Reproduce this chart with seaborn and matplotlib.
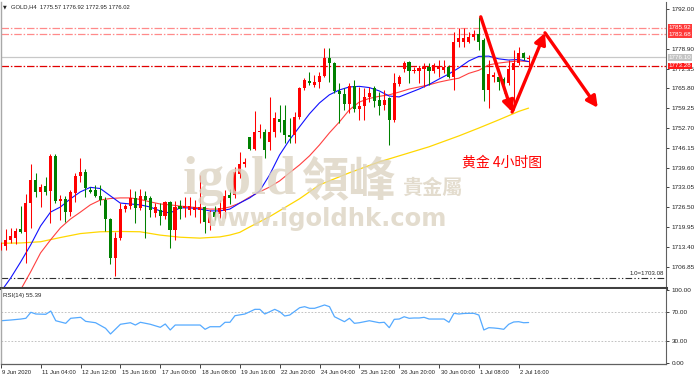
import matplotlib
matplotlib.use("Agg")
import matplotlib.pyplot as plt
import matplotlib.transforms as mtransforms
import seaborn as sns
import numpy as np

sns.set_theme(style="white")
plt.rcParams['font.family'] = ['Liberation Sans', 'DejaVu Sans']

# ---------------- data (GOLD H4) ----------------
opens = [1712.7, 1713.7, 1715.7, 1716.3, 1719.3, 1718.4, 1727.8, 1735.5, 1731.7, 1733.5,
         1732.0, 1743.5, 1728.6, 1729.1, 1725.0, 1731.1, 1736.9, 1738.3, 1732.2, 1732.2,
         1730.3, 1728.9, 1722.6, 1709.6, 1716.3, 1725.8, 1726.9, 1729.5, 1726.2, 1730.3,
         1729.5, 1724.7, 1725.6, 1723.6, 1728.4, 1719.0, 1726.9, 1726.2, 1725.6, 1725.6,
         1725.6, 1726.5, 1721.3, 1725.0, 1724.3, 1725.3, 1730.4, 1730.6, 1737.5, 1740.8,
         1749.7, 1745.7, 1751.5, 1751.5, 1748.1, 1751.5, 1755.8, 1755.4, 1750.4, 1750.4,
         1756.2, 1765.9, 1768.4, 1767.1, 1768.0, 1769.9, 1775.8, 1774.1, 1765.1, 1764.0,
         1760.7, 1766.6, 1758.9, 1760.0, 1763.1, 1765.9, 1762.0, 1760.3, 1762.6, 1755.4,
         1767.3, 1772.1, 1774.5, 1771.6, 1771.6, 1772.1, 1773.0, 1771.6, 1772.1, 1771.9,
         1773.0, 1769.7, 1781.1, 1781.3, 1781.3, 1782.7, 1783.8, 1781.8, 1765.3, 1769.6,
         1769.7, 1768.9, 1767.7, 1771.9, 1774.1, 1777.4, 1775.57]
highs = [1715.0, 1719.2, 1719.7, 1719.7, 1726.9, 1730.9, 1740.7, 1737.7, 1734.2, 1736.6,
         1744.1, 1744.1, 1730.6, 1730.3, 1732.2, 1737.7, 1742.7, 1739.1, 1733.1, 1733.9,
         1733.9, 1729.8, 1722.8, 1718.4, 1727.9, 1727.6, 1732.5, 1731.9, 1732.5, 1731.9,
         1730.3, 1728.0, 1728.0, 1728.7, 1728.7, 1728.7, 1728.9, 1730.0, 1730.0, 1728.9,
         1737.2, 1726.9, 1725.6, 1726.9, 1728.9, 1732.2, 1732.5, 1739.9, 1744.8, 1742.7,
         1749.9, 1758.5, 1754.1, 1752.4, 1762.9, 1758.1, 1760.3, 1760.3, 1756.0, 1758.1,
         1766.4, 1769.2, 1771.3, 1770.3, 1771.3, 1779.1, 1779.1, 1774.7, 1767.5, 1765.9,
         1767.5, 1768.6, 1766.4, 1765.9, 1766.4, 1766.6, 1764.7, 1765.3, 1763.1, 1770.8,
         1770.3, 1775.0, 1775.0, 1773.0, 1773.2, 1774.1, 1774.1, 1774.2, 1775.2, 1775.2,
         1773.6, 1784.6, 1785.7, 1785.7, 1784.6, 1785.2, 1789.6, 1782.4, 1775.2, 1771.3,
         1771.4, 1769.7, 1775.2, 1778.5, 1779.6, 1778.0, 1776.92]
lows = [1712.4, 1712.4, 1714.7, 1714.4, 1718.0, 1708.0, 1719.6, 1730.0, 1726.7, 1730.6,
        1721.4, 1727.8, 1722.3, 1721.7, 1723.6, 1728.4, 1735.0, 1729.8, 1731.1, 1730.0,
        1727.3, 1718.8, 1707.7, 1703.9, 1715.7, 1725.0, 1725.8, 1721.4, 1725.6, 1716.4,
        1723.2, 1723.2, 1720.6, 1722.5, 1712.9, 1715.7, 1722.5, 1723.4, 1724.0, 1723.2,
        1721.2, 1717.9, 1719.0, 1722.3, 1723.0, 1723.0, 1727.6, 1729.6, 1736.2, 1739.9,
        1745.5, 1745.5, 1749.4, 1742.7, 1745.5, 1749.9, 1751.5, 1747.7, 1747.7, 1747.7,
        1755.7, 1765.3, 1767.0, 1766.3, 1766.0, 1769.7, 1768.0, 1764.2, 1754.3, 1758.7,
        1757.6, 1758.1, 1755.4, 1755.4, 1761.4, 1759.8, 1757.0, 1758.7, 1747.1, 1754.8,
        1766.6, 1771.4, 1767.7, 1770.8, 1767.5, 1766.4, 1767.0, 1770.9, 1769.7, 1770.8,
        1769.2, 1765.3, 1779.6, 1779.6, 1780.8, 1781.8, 1778.5, 1761.5, 1759.3, 1767.9,
        1765.3, 1764.2, 1767.0, 1758.7, 1773.6, 1775.2, 1772.95]
closes = [1714.3, 1715.7, 1717.0, 1718.8, 1718.2, 1727.8, 1735.5, 1731.7, 1733.3, 1731.7,
          1743.5, 1728.7, 1729.4, 1725.0, 1731.7, 1736.9, 1738.3, 1732.8, 1731.7, 1730.3,
          1728.9, 1722.6, 1709.6, 1716.3, 1725.9, 1726.9, 1729.5, 1726.2, 1730.3, 1728.9,
          1725.6, 1726.5, 1723.6, 1728.4, 1719.0, 1726.5, 1725.8, 1726.9, 1726.9, 1726.5,
          1726.5, 1721.7, 1725.0, 1723.4, 1726.3, 1730.3, 1729.6, 1738.2, 1740.8, 1741.6,
          1745.7, 1751.5, 1751.8, 1745.5, 1751.5, 1755.9, 1754.8, 1750.4, 1749.7, 1756.3,
          1765.9, 1768.6, 1767.5, 1768.0, 1769.9, 1775.8, 1774.1, 1765.1, 1764.0, 1760.7,
          1766.6, 1758.9, 1760.0, 1763.1, 1764.4, 1761.8, 1760.0, 1762.0, 1755.4, 1767.5,
          1769.7, 1774.1, 1771.7, 1771.9, 1772.7, 1773.0, 1771.7, 1773.4, 1773.0, 1773.0,
          1769.7, 1781.3, 1782.4, 1782.4, 1782.9, 1783.8, 1781.3, 1765.3, 1770.6, 1770.1,
          1768.0, 1767.5, 1772.1, 1774.1, 1777.4, 1775.8, 1776.02]

# moving averages (read at sampled bars)
ma_fast_bar = [0, 2, 4, 6, 8, 10, 12, 14, 16, 18, 20, 22, 24, 26, 28, 30, 32, 34, 36, 38,
               40, 42, 44, 46, 48, 50, 52, 54, 56, 58, 60, 62, 64, 66, 68, 70, 72, 74, 76, 78,
               80, 82, 84, 86, 88, 90, 92, 94, 96, 98, 100, 102, 104, 106]
ma_fast = [1698.5, 1703.1, 1708.4, 1714.0, 1720.3, 1724.9, 1726.6, 1729.3, 1731.6, 1733.1,
           1732.7, 1730.3, 1727.9, 1727.6, 1727.3, 1726.6, 1725.3, 1724.6, 1726.3, 1726.3,
           1725.9, 1725.3, 1725.3, 1725.9, 1727.9, 1729.6, 1731.9, 1737.2, 1743.8, 1748.8,
           1753.1, 1757.4, 1761.0, 1763.7, 1765.3, 1766.3, 1766.5, 1766.1, 1765.0, 1763.3,
           1763.0, 1764.3, 1765.6, 1767.1, 1768.9, 1770.6, 1772.6, 1774.9, 1776.4, 1776.5,
           1775.6, 1775.2, 1775.4, 1774.7]
ma_mid_bar = [4, 6, 8, 10, 12, 14, 16, 18, 20, 22, 24, 26, 28, 30, 32, 34, 36, 38, 40, 42,
              44, 46, 48, 50, 52, 54, 56, 58, 60, 62, 64, 66, 68, 70, 72, 74, 76, 78, 80, 82,
              84, 86, 88, 90, 92, 94, 96, 98, 100, 102, 104, 106]
ma_mid = [1699.2, 1705.1, 1711.4, 1715.7, 1719.7, 1722.6, 1724.9, 1727.3, 1728.9, 1729.4,
          1729.6, 1729.6, 1729.1, 1728.3, 1727.6, 1727.3, 1726.9, 1726.6, 1726.3, 1725.9,
          1725.9, 1726.6, 1727.9, 1729.9, 1731.6, 1733.2, 1735.2, 1737.9, 1740.5, 1743.5,
          1747.1, 1751.1, 1754.7, 1758.7, 1761.3, 1762.5, 1763.2, 1763.7, 1764.6, 1765.6,
          1766.3, 1767.0, 1767.9, 1768.6, 1769.2, 1770.8, 1771.8, 1773.6, 1774.2, 1774.6,
          1774.9, 1774.7]
ma_slow_bar = [0, 4, 8, 12, 16, 20, 24, 28, 32, 36, 40, 44, 46, 48, 50, 54, 60, 64, 70, 76,
               80, 86, 92, 96, 100, 104, 106]
ma_slow = [1714.6, 1714.7, 1715.1, 1716.5, 1717.8, 1718.4, 1718.5, 1718.4, 1717.3, 1716.6,
           1716.3, 1716.7, 1717.3, 1718.2, 1720.0, 1723.4, 1729.3, 1733.9, 1737.9, 1741.5,
           1743.5, 1746.5, 1750.1, 1752.7, 1755.4, 1758.2, 1759.3]

rsi_bar = [0, 2, 4, 5, 6, 7, 9, 10, 11, 13, 14, 16, 17, 19, 21, 22, 24, 26, 27, 28,
           30, 32, 33, 34, 35, 37, 40, 41, 42, 44, 45, 46, 47, 49, 50, 51, 52, 53, 54, 55,
           56, 57, 58, 60, 61, 62, 63, 64, 65, 66, 67, 69, 70, 71, 72, 74, 76, 77, 78, 79,
           80, 81, 82, 83, 84, 85, 86, 87, 89, 90, 91, 92, 93, 94, 95, 96, 97, 98, 99, 100,
           101, 102, 103, 104, 105, 106]
rsi = [57.8, 58.8, 60.1, 61.1, 69.2, 66.9, 66.5, 70.9, 57.8, 54.3, 61.1, 62.4, 57.0, 55.1, 47.6,
       39.9, 53.0, 55.1, 52.0, 55.7, 53.0, 48.9, 53.4, 45.3, 52.0, 52.0, 52.0, 46.2, 49.7, 49.7,
       55.7, 55.7, 64.6, 66.9, 70.0, 73.2, 73.2, 66.9, 70.0, 73.2, 70.0, 64.2, 65.5, 75.4, 76.8,
       74.6, 74.6, 76.8, 79.1, 76.8, 63.2, 56.5, 61.1, 54.3, 55.1, 57.8, 55.1, 55.7, 48.4, 59.7,
       60.1, 63.2, 61.1, 61.5, 61.5, 62.4, 60.1, 60.1, 60.1, 55.7, 67.8, 66.9, 67.6, 67.8, 67.8,
       65.5, 45.3, 48.4, 48.0, 47.3, 46.2, 53.0, 56.1, 56.5, 55.1, 55.39]

time_tick_bar = [0, 8, 16, 24, 32, 40, 48, 56, 64, 72, 80, 88, 96, 104]
time_labels = ['9 Jun 2020', '11 Jun 04:00', '12 Jun 12:00', '15 Jun 16:00', '17 Jun 00:00',
               '18 Jun 08:00', '19 Jun 16:00', '22 Jun 20:00', '24 Jun 04:00', '25 Jun 12:00',
               '26 Jun 20:00', '30 Jun 00:00', '1 Jul 08:00', '2 Jul 16:00']
price_levels = [1706.85, 1713.40, 1719.95, 1726.50, 1733.05, 1739.60, 1746.15, 1752.70,
                1759.25, 1765.80, 1772.35, 1778.90, 1792.00]
resist_levels = [1785.92, 1783.68]
support_level = 1773.28
bid_level = 1776.10
fibo_level = 1703.08
rsi_levels = [0, 30, 70, 100]
path_bar = [96.4, 102.7, 109.3, 119.9]
path_price = [1789.5, 1758.0, 1784.2, 1759.4]

# ---------------- figure ----------------
W, H = 700.0, 376.0
fig = plt.figure(figsize=(W / 100, H / 100), dpi=100)
fig.patch.set_facecolor('white')

def rect(x0, y0, x1, y1):
    return [x0 / W, 1 - y1 / H, (x1 - x0) / W, (y1 - y0) / H]

ax = fig.add_axes(rect(1, 2, 666, 288))
ax2 = fig.add_axes(rect(1, 289, 666, 364))
for a in (ax, ax2):
    a.set_facecolor('white')
    a.set_xlim(0.06, 133.6)

ax.set_ylim(1699.8, 1794.4)
ax2.set_ylim(-0.7, 100.7)

idx = np.arange(len(opens))
o = np.array(opens); c = np.array(closes); h = np.array(highs); l = np.array(lows)
cols = np.where(c >= o, '#ff0000', '#008000')

# horizontal reference lines
for lv in resist_levels:
    ax.axhline(lv, color='#ff8a8a', lw=0.9, ls=(0, (6, 1.5, 1.2, 1.5)), zorder=1)
ax.axhline(support_level, color='#e00000', lw=0.9, ls=(0, (6, 1.5, 1.2, 1.5)), zorder=1)
ax.axhline(bid_level, color='#c8c8c8', lw=0.9, zorder=1)
ax.axhline(fibo_level, color='#303030', lw=0.8, ls=(0, (6, 2, 1.2, 2, 1.2, 2)), zorder=1)

# moving averages
sns.lineplot(x=ma_slow_bar, y=ma_slow, ax=ax, color='#ffd700', lw=0.9, zorder=2)
sns.lineplot(x=ma_mid_bar, y=ma_mid, ax=ax, color='#ff4040', lw=0.8, zorder=2)
sns.lineplot(x=ma_fast_bar, y=ma_fast, ax=ax, color='#1010ff', lw=0.8, zorder=2)

# candles
ax.vlines(idx, l, h, colors=cols, lw=0.75, zorder=3)
ax.bar(idx, np.maximum(np.abs(c - o), 0.35), bottom=np.minimum(o, c), width=0.62,
       color=cols, lw=0, zorder=4)

# watermark
def axfrac(px, py):
    return ((px - 1) / 665.0, (288 - py) / 286.0)

wm = '#ddd4c2'
ax.text(*axfrac(183, 194), 'igold', transform=ax.transAxes, fontsize=39,
        family='Liberation Serif', weight='bold', color=wm, alpha=0.8, va='baseline', zorder=5)
ax.text(*axfrac(301, 195), '領峰', transform=ax.transAxes, fontsize=34,
        family=['Noto Sans CJK TC', 'DejaVu Sans'], weight='bold', color=wm, alpha=0.8,
        va='baseline', zorder=5)
ax.text(*axfrac(402, 194), '貴金屬', transform=ax.transAxes, fontsize=14.5,
        family=['Noto Sans CJK TC', 'DejaVu Sans'], weight='bold', color=wm, alpha=0.8,
        va='baseline', zorder=5)
ax.text(*axfrac(205, 226), 'www.igoldhk.com', transform=ax.transAxes, fontsize=17.5,
        family='DejaVu Sans', weight='bold', color=wm, alpha=0.8, va='baseline', zorder=5)

# forecast arrows
for i in range(len(path_bar) - 1):
    ax.annotate('', xy=(path_bar[i + 1], path_price[i + 1]), xytext=(path_bar[i], path_price[i]),
                arrowprops=dict(arrowstyle='-|>,head_length=0.55,head_width=0.28', color='#ff0000',
                                lw=2.4, shrinkA=0, shrinkB=0, mutation_scale=12),
                zorder=6, annotation_clip=False)

ax.text(100.7, 1741.2, '黄金 4小时图', color='#ff0000', fontsize=10,
        family=['Noto Sans CJK SC', 'DejaVu Sans'], ha='center', va='center', zorder=6)

# axes styling
ax.yaxis.tick_right()
ax.set_yticks(price_levels)
ax.set_yticklabels([f'{v:.2f}' for v in price_levels])
ax.tick_params(axis='y', which='both', length=2.5, width=0.6, pad=1.5, labelsize=4.6,
               colors='#222222', right=True, left=False)
ax.set_xticks([])
ax.spines['top'].set_visible(False)
ax.spines['left'].set_color('#a8a8a8'); ax.spines['left'].set_linewidth(1.0)
ax.spines['right'].set_color('#606060'); ax.spines['right'].set_linewidth(0.8)
ax.spines['bottom'].set_color('#404040'); ax.spines['bottom'].set_linewidth(2.2)

bt = mtransforms.blended_transform_factory(ax.transAxes, ax.transData)
for lv, fc in [(resist_levels[0], '#ff3a3a'), (resist_levels[1], '#ff3a3a'),
               (support_level, '#ff1a1a'), (bid_level, '#c4c4c4')]:
    ax.text(1.004, lv, f'{lv:.2f}', transform=bt, fontsize=4.5, color='white', va='center',
            ha='left', clip_on=False, zorder=7,
            bbox=dict(boxstyle='square,pad=0.12', fc=fc, ec='none'))
ax.text(0.997, fibo_level + 0.6, f'1.0={fibo_level:.2f}', transform=bt, fontsize=4.4,
        color='#222222', ha='right', va='bottom', zorder=7)

# RSI panel
for lv in (30, 70):
    ax2.axhline(lv, color='#b8b8b8', lw=0.6, ls=(0, (2, 2)), zorder=1)
sns.lineplot(x=rsi_bar, y=rsi, ax=ax2, color='#55aaff', lw=0.9, zorder=2)
ax2.yaxis.tick_right()
ax2.set_yticks(rsi_levels)
ax2.set_yticklabels([f'{v:.2f}' for v in rsi_levels])
ax2.tick_params(axis='y', length=2.5, width=0.6, pad=1.5, labelsize=4.6, colors='#222222',
                right=True, left=False)
ax2.set_xticks(time_tick_bar)
ax2.set_xticklabels(time_labels, ha='left')
ax2.tick_params(axis='x', length=3, width=0.6, pad=1.0, labelsize=4.2, colors='#222222',
                bottom=True)
off = mtransforms.ScaledTranslation(1.5 / 100, 0, fig.dpi_scale_trans)
for lab in ax2.get_xticklabels():
    lab.set_transform(lab.get_transform() + off)
ax2.spines['top'].set_visible(False)
ax2.spines['left'].set_color('#a8a8a8'); ax2.spines['left'].set_linewidth(1.0)
ax2.spines['right'].set_color('#606060'); ax2.spines['right'].set_linewidth(0.8)
ax2.spines['bottom'].set_color('#606060'); ax2.spines['bottom'].set_linewidth(0.9)
ax2.set_xlabel(''); ax2.set_ylabel(''); ax.set_xlabel(''); ax.set_ylabel('')

fig.text(3 / W, 1 - 7 / H, '\u25bc', fontsize=3.5, va='center', color='#222222',
         family=['DejaVu Sans'])
fig.text(11 / W, 1 - 7 / H, 'GOLD,H4  1775.57 1776.92 1772.95 1776.02', fontsize=4.2,
         va='center', color='#222222')
fig.text(3 / W, 1 - 295 / H, f'RSI(14) {rsi[-1]:.2f}', fontsize=4.4, va='center',
         color='#222222')

fig.savefig('out.png', dpi=100, facecolor='white')
